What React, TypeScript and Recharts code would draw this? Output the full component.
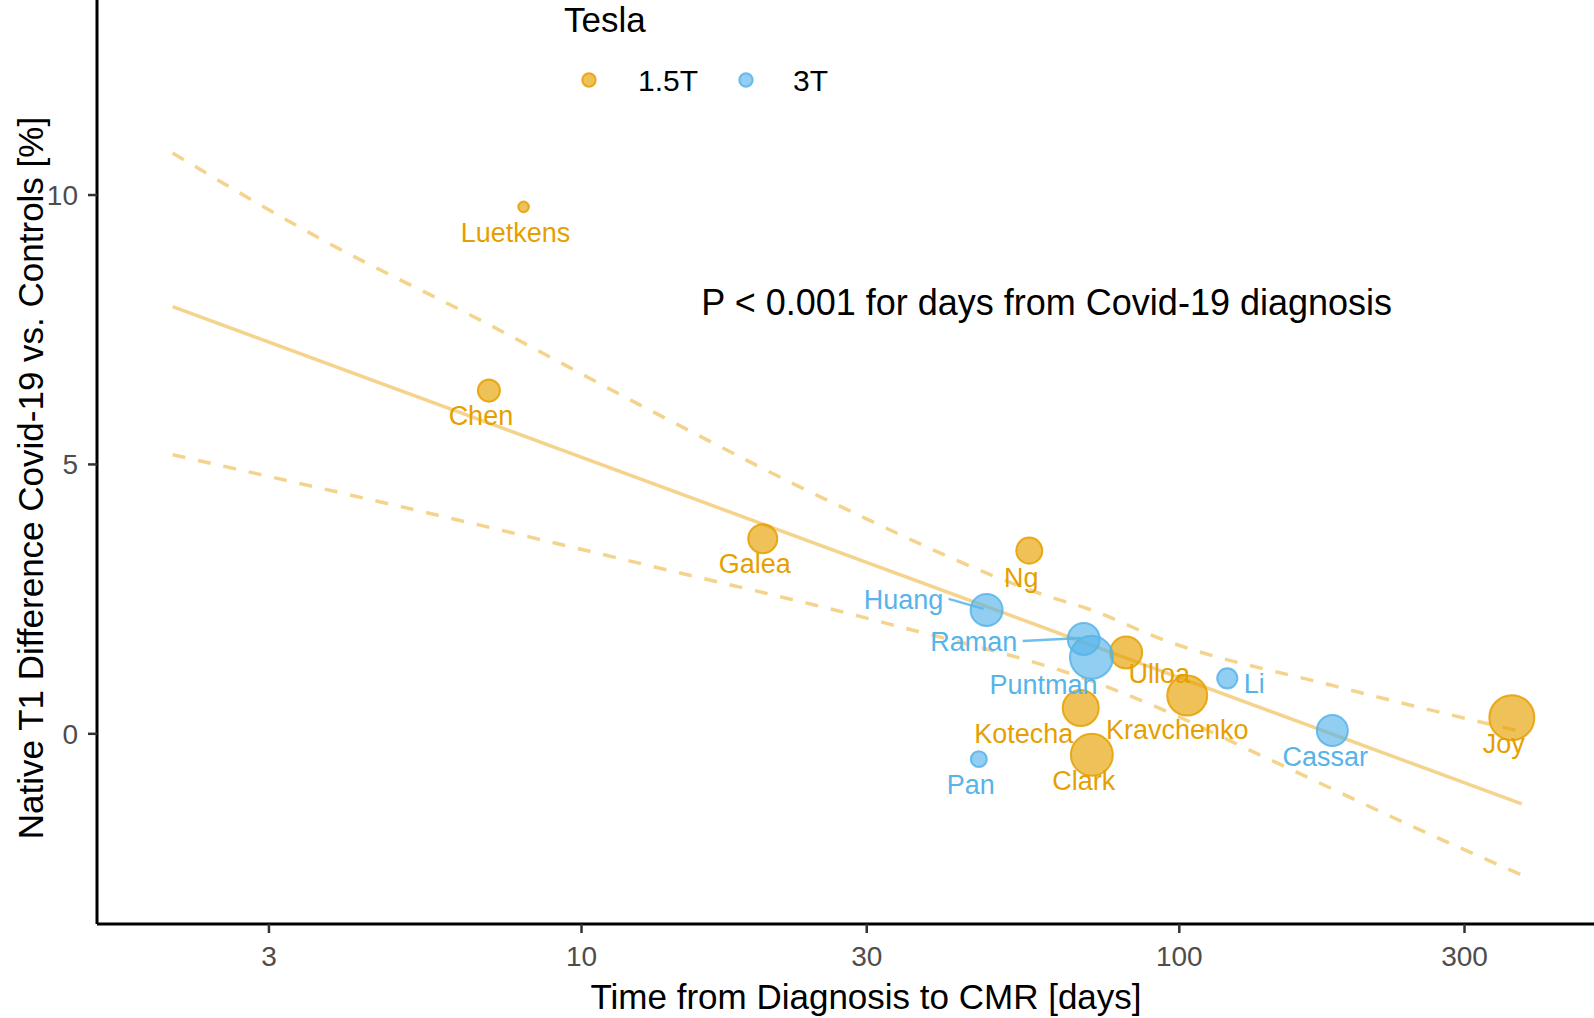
import React from "react";
import { ScatterChart, Scatter, XAxis, YAxis, ZAxis } from "recharts";

const FONT = "'Liberation Sans', Arial, Helvetica, sans-serif";
const ORANGE = "#E69F00";
const BLUE = "#56B4E9";

// axes
const xTicks = [3, 10, 30, 100, 300];
const yTicks = [0, 5, 10];

// studies
const studies = ["Luetkens", "Chen", "Galea", "Ng", "Huang", "Raman", "Puntman", "Ulloa", "Li", "Kravchenko", "Kotecha", "Cassar", "Joy", "Pan", "Clark"];
const daysToCmr = [8.0, 7.0, 20.1, 56.1, 47.6, 69.2, 71.3, 81.5, 120.3, 103.1, 68.4, 180.3, 360, 46.2, 71.4];
const t1Difference = [9.78, 6.37, 3.62, 3.4, 2.3, 1.76, 1.42, 1.51, 1.03, 0.71, 0.48, 0.06, 0.3, -0.47, -0.39];
const patients = [11, 48, 83, 67, 101, 101, 183, 101, 40, 158, 128, 95, 200, 25, 174];
const fieldStrength = ["1.5T", "1.5T", "1.5T", "1.5T", "3T", "3T", "3T", "1.5T", "3T", "1.5T", "1.5T", "3T", "1.5T", "3T", "1.5T"];

// meta-regression fit + 95% CI
const fitDays = [2.07, 374];
const fitValue = [7.93, -1.3];
const upperDays = [2.07, 3.6, 6.85, 13.0, 26.4, 58.6, 73.7, 89.3, 183, 374];
const upperValue = [10.78, 9.23, 7.65, 6.01, 4.28, 2.6, 2.24, 1.84, 0.88, 0.04];
const lowerDays = [2.07, 4.97, 13.0, 32.4, 73.7, 89.3, 140, 249, 374];
const lowerValue = [5.18, 4.22, 3.12, 2.05, 0.92, 0.55, -0.45, -1.75, -2.62];

const annotation = "P < 0.001 for days from Covid-19 diagnosis";
const annotationDays = 60;
const annotationValue = 8.0;

const points = studies.map((name, i) => ({
  name,
  days: daysToCmr[i],
  t1: t1Difference[i],
  n: patients[i],
  tesla: fieldStrength[i],
}));
const pts15 = points.filter((p) => p.tesla === "1.5T");
const pts3 = points.filter((p) => p.tesla === "3T");

const toLine = (xs: number[], ys: number[]) => xs.map((d, i) => ({ days: d, t1: ys[i] }));
const fitLine = toLine(fitDays, fitValue);
const upperLine = toLine(upperDays, upperValue);
const lowerLine = toLine(lowerDays, lowerValue);

// label nudges in px (text centre relative to bubble centre)
const nudge: Record<string, [number, number]> = {
  Luetkens: [-8, 26],
  Chen: [-8, 25],
  Galea: [-8, 25],
  Ng: [-8, 27],
  Huang: [-83, -10],
  Raman: [-110, 3],
  Puntman: [-48, 28],
  Ulloa: [33, 22],
  Li: [27, 6],
  Kravchenko: [-10, 34],
  Kotecha: [-57, 26],
  Cassar: [-7, 26],
  Joy: [-8, 26],
  Pan: [-8, 26],
  Clark: [-8, 26],
};
const leaders: Record<string, [number, number, number, number]> = {
  Huang: [-38, -11, -3, -1],
  Raman: [-61, 2, -3, -1],
};

const bubble = (color: string) => (p: any) => (
  <circle
    cx={p.cx}
    cy={p.cy}
    r={(p.width || 0) / 2}
    fill={color}
    fillOpacity={0.65}
    stroke={color}
    strokeOpacity={0.85}
    strokeWidth={2}
  />
);

const label = (color: string) => (p: any) => {
  const name = p.payload?.name as string;
  const [dx, dy] = nudge[name] ?? [0, 24];
  const seg = leaders[name];
  return (
    <g>
      {seg && (
        <line
          x1={p.cx + seg[0]}
          y1={p.cy + seg[1]}
          x2={p.cx + seg[2]}
          y2={p.cy + seg[3]}
          stroke={color}
          strokeOpacity={0.85}
          strokeWidth={2.5}
        />
      )}
      <text
        x={p.cx + dx}
        y={p.cy + dy}
        textAnchor="middle"
        dominantBaseline="central"
        fill={color}
        fontSize={27}
        fontFamily={FONT}
      >
        {name}
      </text>
    </g>
  );
};

const noDot = () => <g />;

export default function App() {
  return (
    <div
      style={{
        position: "absolute",
        top: 0,
        left: 0,
        width: 1594,
        height: 1018,
        background: "#fff",
        overflow: "hidden",
      }}
    >
      <ScatterChart width={1594} height={1018} margin={{ top: 0, right: 0, bottom: 0, left: 0 }}>
        <XAxis
          type="number"
          dataKey="days"
          scale="log"
          domain={[1.547, 494]}
          allowDataOverflow
          ticks={xTicks}
          interval={0}
          height={94}
          tickSize={9}
          tickMargin={13}
          axisLine={{ stroke: "#000", strokeWidth: 3 }}
          tickLine={{ stroke: "#333", strokeWidth: 2.5 }}
          tick={{ fill: "#4D4D4D", fontSize: 28, fontFamily: FONT }}
        />
        <YAxis
          type="number"
          dataKey="t1"
          domain={[-3.53, 13.62]}
          allowDataOverflow
          ticks={yTicks}
          interval={0}
          width={97}
          tickSize={9}
          tickMargin={10}
          axisLine={{ stroke: "#000", strokeWidth: 3 }}
          tickLine={{ stroke: "#333", strokeWidth: 2.5 }}
          tick={{ fill: "#4D4D4D", fontSize: 28, fontFamily: FONT }}
        />
        <ZAxis type="number" dataKey="n" domain={[0, 200]} range={[0, 1590]} />

        {/* regression line + CI */}
        <Scatter
          data={upperLine}
          line={{ stroke: ORANGE, strokeOpacity: 0.45, strokeWidth: 3.5, strokeDasharray: "13 13" }}
          lineJointType="monotoneX"
          shape={noDot}
          isAnimationActive={false}
        />
        <Scatter
          data={lowerLine}
          line={{ stroke: ORANGE, strokeOpacity: 0.45, strokeWidth: 3.5, strokeDasharray: "13 13" }}
          lineJointType="monotoneX"
          shape={noDot}
          isAnimationActive={false}
        />
        <Scatter
          data={fitLine}
          line={{ stroke: ORANGE, strokeOpacity: 0.45, strokeWidth: 3.5 }}
          lineJointType="linear"
          shape={noDot}
          isAnimationActive={false}
        />

        {/* bubbles */}
        <Scatter data={pts15} shape={bubble(ORANGE)} isAnimationActive={false} />
        <Scatter data={pts3} shape={bubble(BLUE)} isAnimationActive={false} />

        {/* labels */}
        <Scatter data={pts15} shape={label(ORANGE)} isAnimationActive={false} />
        <Scatter data={pts3} shape={label(BLUE)} isAnimationActive={false} />

        {/* p-value annotation */}
        <Scatter
          data={[{ days: annotationDays, t1: annotationValue }]}
          shape={(p: any) => (
            <text
              x={p.cx}
              y={p.cy}
              textAnchor="middle"
              dominantBaseline="central"
              fontSize={36}
              fontFamily={FONT}
              fill="#000"
            >
              {annotation}
            </text>
          )}
          isAnimationActive={false}
        />
      </ScatterChart>

      {/* titles + legend */}
      <svg
        width={1594}
        height={1018}
        style={{ position: "absolute", top: 0, left: 0, pointerEvents: "none" }}
      >
        <text
          x={866}
          y={996}
          textAnchor="middle"
          dominantBaseline="central"
          fontSize={35}
          fontFamily={FONT}
          fill="#000"
        >
          Time from Diagnosis to CMR [days]
        </text>
        <text
          x={30}
          y={478}
          transform="rotate(-90 30 478)"
          textAnchor="middle"
          dominantBaseline="central"
          fontSize={35}
          fontFamily={FONT}
          fill="#000"
        >
          Native T1 Difference Covid-19 vs. Controls [%]
        </text>

        <text x={564} y={32} fontSize={35} fontFamily={FONT} fill="#000">
          Tesla
        </text>
        <circle cx={589} cy={80} r={6.7} fill={ORANGE} fillOpacity={0.65} stroke={ORANGE} strokeOpacity={0.85} strokeWidth={2} />
        <text x={638} y={80} dominantBaseline="central" fontSize={30} fontFamily={FONT} fill="#000">
          1.5T
        </text>
        <circle cx={746} cy={80} r={6.7} fill={BLUE} fillOpacity={0.65} stroke={BLUE} strokeOpacity={0.85} strokeWidth={2} />
        <text x={793} y={80} dominantBaseline="central" fontSize={30} fontFamily={FONT} fill="#000">
          3T
        </text>
      </svg>
    </div>
  );
}
